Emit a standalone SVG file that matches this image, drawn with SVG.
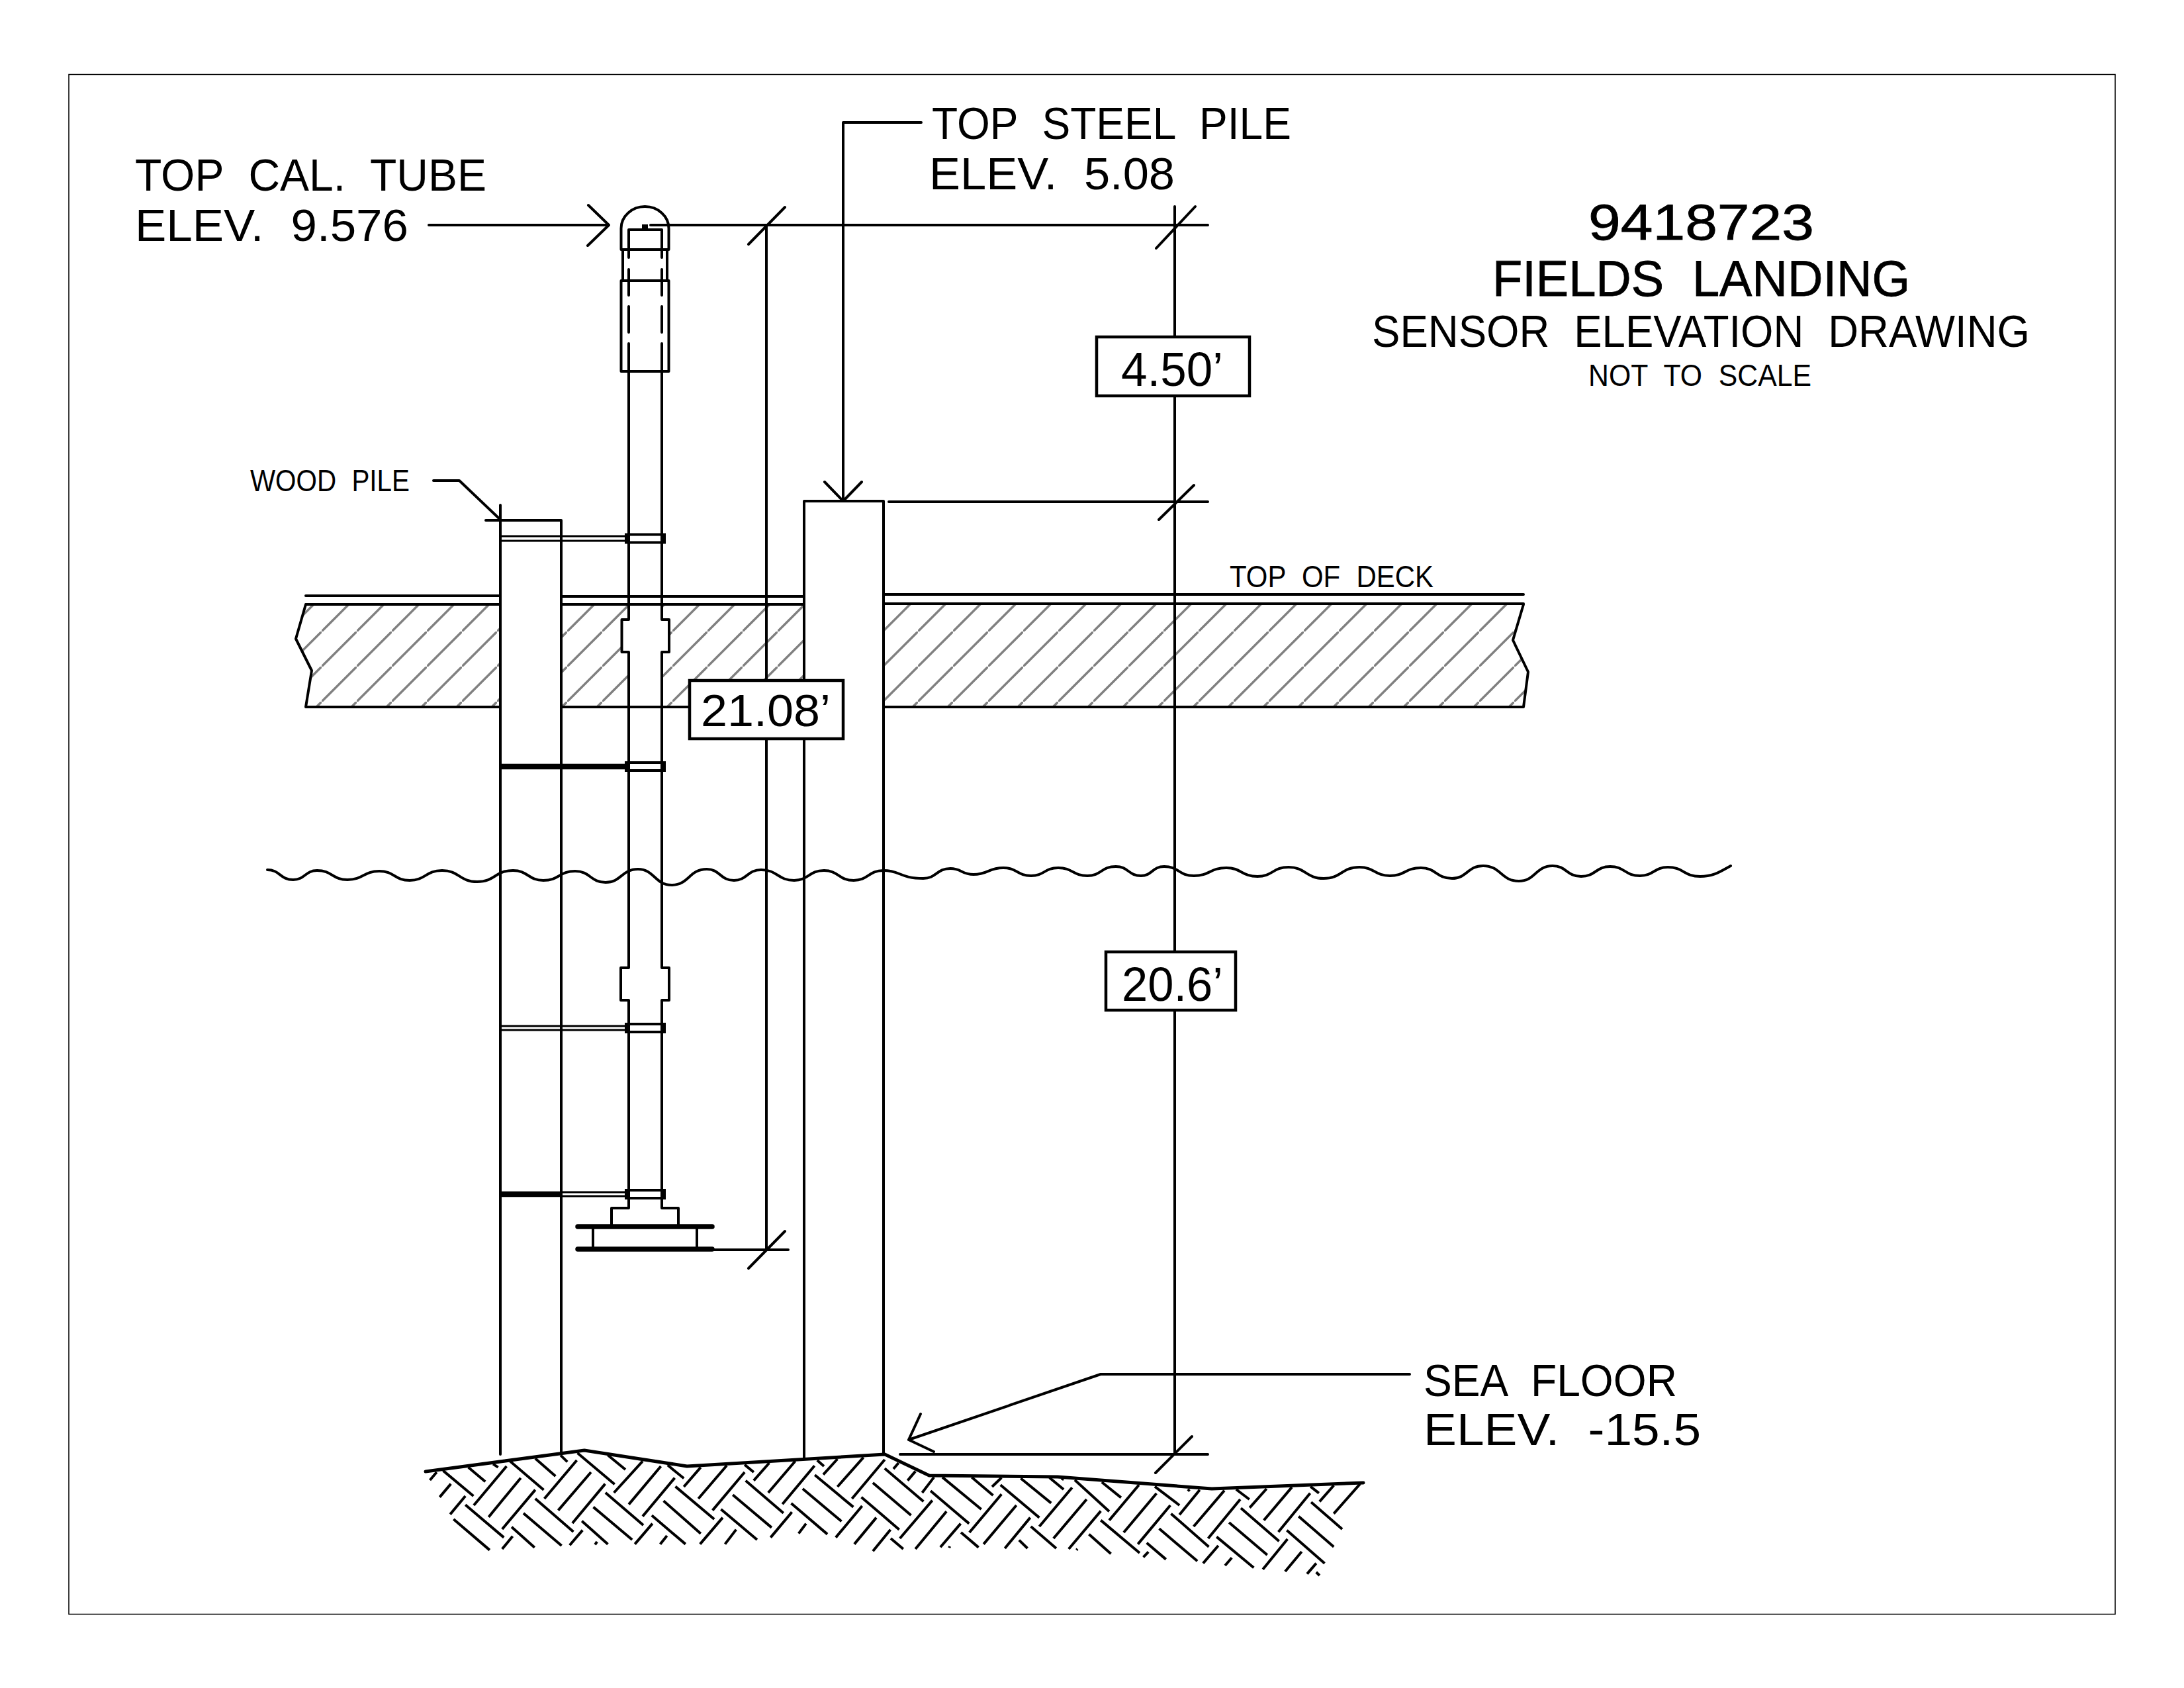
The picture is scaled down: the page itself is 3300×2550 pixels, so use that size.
<svg xmlns="http://www.w3.org/2000/svg" width="3300" height="2550" viewBox="0 0 3300 2550">
<style>
.l{fill:none;stroke:#000;stroke-width:4;stroke-linecap:round;stroke-linejoin:round}
.t{fill:none;stroke:#000;stroke-width:4;vector-effect:non-scaling-stroke;stroke-linecap:butt}
.b{fill:#fff;stroke:#000;stroke-width:4.5}
.x{font-family:"Liberation Sans",Arial,sans-serif;fill:#000;word-spacing:.3em}
.h{stroke:#000;stroke-width:.8}
</style>
<defs>
<pattern id="deckHatch" patternUnits="userSpaceOnUse" x="9" y="0" width="53" height="53">
<path d="M-3 56L56 -3" stroke="#808080" stroke-width="3.4" fill="none"/>
</pattern>
<g id="collar">
<rect x="946" y="-6" width="58" height="12" fill="#fff" stroke="#000" stroke-width="4"/>
<rect x="946" y="-6" width="6" height="12" fill="#000"/>
<rect x="998" y="-6" width="6" height="12" fill="#000"/>
</g>
</defs>
<rect width="3300" height="2550" fill="#fff"/>
<rect id="border" x="104" y="112.500" width="3092" height="2326" fill="none" stroke="#000" stroke-width="1.500"/>

<g id="deck">
<path d="M462 913L447 965L471 1013L462 1068H2302L2309 1015L2286 967L2302 913Z" fill="url(#deckHatch)"/>
<rect x="756" y="905" width="92" height="170" fill="#fff"/>
<rect x="950" y="905" width="50" height="170" fill="#fff"/>
<path d="M939.500 936H1011V985H939.500Z" fill="#fff"/>
<rect x="1215" y="905" width="120" height="170" fill="#fff"/>
<path class="l" d="M462 900H756M848 901H1215M1335 898H2302M462 913H756M848 913H1215M1335 912H2302M756 1068H462L471 1013L447 965L462 913M848 1068H1041M1335 1068H2302L2309 1015L2286 967L2302 913"/>
</g>

<g id="wood-pile">
<path class="l" d="M734 786H848V2195M756 763V2197"/>
</g>

<g id="steel-pile">
<path class="l" d="M1215 2202V757H1335V2197"/>
</g>

<g id="tube">
<path class="l" d="M938.500 377V345A36 33 0 0 1 1010.500 345V377ZM941 377V424M1008 377V424M938.500 424H1010.500V561H938.500Z"/>
<path class="l" d="M950 347H1000M950 347V389M1000 347V389M950 407V446M1000 407V446M950 463V502M1000 463V502M950 519V936H939.500V985H950V1462H938V1511H950V1825H924V1853M1000 519V936H1011V985H1000V1462H1011V1511H1000V1825H1025V1853"/>
<rect x="970" y="339" width="9" height="8" fill="#000"/>
<path class="l" d="M896 1853V1887M1053 1853V1887"/>
<path d="M873 1853H1076M873 1887H1076" fill="none" stroke="#000" stroke-width="7.500" stroke-linecap="round"/>
</g>

<g id="brackets">
<path class="l" style="stroke-width:3" d="M756 810H946M756 817H946M756 1550H946M756 1556H946M848 1801H946M848 1807H946"/>
<path d="M756 1158H946M756 1804H848" stroke="#000" stroke-width="8.500" fill="none"/>
<use href="#collar" transform="translate(0 813.500)"/>
<use href="#collar" transform="translate(0 1158)"/>
<use href="#collar" transform="translate(0 1553)"/>
<use href="#collar" transform="translate(0 1804)"/>
</g>

<g id="water">
<path class="l" d="M404 1314C423 1314 423 1329 443 1329C461 1329 461 1315 479 1315C502 1315 502 1329 525 1329C549 1329 549 1316 573 1316C596 1316 596 1330 619 1330C643 1330 643 1315 668 1315C694 1315 694 1332 721 1332C748 1332 748 1315 775 1315C798 1315 798 1330 821 1330C845 1330 845 1316 869 1316C892 1316 892 1333 915 1333C939 1333 939 1313 964 1313C989 1313 989 1337 1015 1337C1041 1337 1041 1313 1068 1313C1088 1313 1088 1330 1109 1330C1129 1330 1129 1314 1150 1314C1175 1314 1175 1330 1200 1330C1222 1330 1222 1315 1245 1315C1267 1315 1267 1330 1290 1330C1312 1330 1312 1315 1335 1315C1360 1315 1360 1327 1395 1327C1415 1327 1415 1312 1436 1312C1453 1312 1453 1321 1471 1321C1493 1321 1493 1311 1516 1311C1537 1311 1537 1323 1558 1323C1578 1323 1578 1311 1599 1311C1621 1311 1621 1323 1643 1323C1664 1323 1664 1309 1686 1309C1705 1309 1705 1323 1724 1323C1741 1323 1741 1309 1759 1309C1781 1309 1781 1323 1804 1323C1828 1323 1828 1311 1853 1311C1876 1311 1876 1324 1900 1324C1923 1324 1923 1310 1947 1310C1973 1310 1973 1327 2000 1327C2027 1327 2027 1310 2054 1310C2077 1310 2077 1323 2100 1323C2123 1323 2123 1311 2147 1311C2170 1311 2170 1327 2194 1327C2217 1327 2217 1308 2241 1308C2268 1308 2268 1331 2295 1331C2320 1331 2320 1308 2346 1308C2367 1308 2367 1324 2389 1324C2411 1324 2411 1309 2433 1309C2455 1309 2455 1323 2478 1323C2499 1323 2499 1310 2520 1310C2544 1310 2544 1324 2569 1324C2590 1324 2600 1316 2615 1308"/>
</g>

<g id="ground">
<path class="l" style="stroke-width:5" d="M643 2223L883 2191L1038 2215L1337 2197L1404 2229L1598 2231L1831 2249L2060 2240"/>
<g transform="translate(620 2100) scale(.5102 .3333)">
<path class="t" d="M97 365L187 480M172 350L222 415M245 335L260 350M295 322L395 452M370 310L430 390M445 295L465 325M495 285L605 427M585 295L637 360M762 340L810 400M990 338L1017 372M1205 318L1225 345M785 437L900 585M993 410L1105 557M955 475L1070 623M1198 385L1312 530M1162 447L1277 595M1128 513L1235 653M750 502L860 650M920 540L1027 678M715 568L815 698M578 465L690 612M542 530L657 678M508 593L585 698M370 492L483 642M335 558L448 705M300 620L368 713M163 520L277 668M128 585L235 725M78 372L58 408M120 425L87 485M163 480L118 563M285 345L188 522M327 398L232 575M370 452L272 630M303 662L272 720M493 318L397 492M535 372L438 545M577 425L480 603M510 635L472 703M553 687L547 700M688 322L603 465M742 345L647 518M783 398L688 572M717 605L665 698M760 660L740 698M860 350L810 438M937 342L853 492M990 372L895 545M925 578L858 698M965 632L932 698M1063 330L1017 410M1140 322L1060 465M1197 343L1102 517M1130 553L1067 668M1172 605L1150 650M1265 312L1223 383M1342 305L1265 438M1405 315L1308 492M1338 525L1260 668M1380 578L1315 698M1422 632L1370 730"/>
</g>
<g transform="translate(1300 2100) scale(.5102 .3333)">
<path class="t" d="M72 355L187 505M37 420L150 567M3 485L115 632M90 672L127 720M243 395L358 540M208 457L322 605M298 645L350 713M330 395L393 477M415 430L530 578M475 400L565 512M505 618L580 717M470 680L495 717M560 397L602 450M635 407L737 550M715 417L772 487M712 590L827 738M677 653L742 742M848 692L905 767M872 437L945 522M920 560L1032 710M885 628L998 775M1055 665L1165 805M1092 600L1205 747M1127 535L1240 685M1113 450L1152 495M1263 635L1375 785M1298 572L1402 710M1335 508L1427 630M1333 437L1358 467M1350 825L1360 840M113 330L98 357M163 368L140 410M218 395L183 465M213 500L117 672M255 550L163 720M297 605L237 712M418 397L390 438M418 472L323 645M462 522L365 698M503 578L428 717M627 442L530 618M670 495L572 672M712 548L617 720M825 430L737 590M877 468L780 645M918 522L822 698M853 733L838 757M1005 452L945 565M1078 455L987 618M1125 495L1030 672M1060 705L1015 785M1100 760L1080 795M1203 447L1153 533M1278 440L1195 590M1332 467L1238 643M1265 675L1192 812M1307 732L1258 822M1350 785L1323 833M1402 432L1360 505M1480 425L1402 560M975 450L970 458M600 400L597 408M265 708L263 715M643 720L640 725"/>
</g>
</g>

<g id="connectors">
<path class="l" d="M648 340H920M889 310L920 340L888 371"/>
<path class="l" d="M983 340H1825M1158 340V1888M1131 369L1186 313M1077 1888H1191M1131 1916L1186 1860"/>
<path class="l" d="M1775 312V2197M1747 375L1806 312M1343 758H1825M1751 785L1804 733M1360 2197H1825M1746 2225L1801 2170"/>
<path class="l" d="M1392 185H1274V757M1246 728L1274 757L1302 728"/>
<path class="l" d="M655 726H694L756 785"/>
<path class="l" d="M2130 2076H1663L1373 2175M1391 2136L1373 2175L1411 2193"/>
</g>

<g id="dim-450">
<rect class="b" x="1657" y="509" width="231" height="89"/>
<text class="x" x="1694" y="583" font-size="72" textLength="154" lengthAdjust="spacingAndGlyphs">4.50’</text>
</g>
<g id="dim-206">
<rect class="b" x="1671" y="1438" width="196" height="88"/>
<text class="x" x="1695" y="1512" font-size="72" textLength="153" lengthAdjust="spacingAndGlyphs">20.6’</text>
</g>
<g id="dim-2108">
<rect class="b" x="1042" y="1028" width="232" height="88"/>
<text class="x" x="1059" y="1097" font-size="68" textLength="196" lengthAdjust="spacingAndGlyphs">21.08’</text>
</g>

<g id="labels">
<text class="x" x="204" y="288" font-size="68" textLength="531" lengthAdjust="spacingAndGlyphs">TOP CAL. TUBE</text>
<text class="x" x="204" y="364" font-size="68" textLength="413" lengthAdjust="spacingAndGlyphs">ELEV. 9.576</text>
<text class="x" x="1408" y="210" font-size="68" textLength="543" lengthAdjust="spacingAndGlyphs">TOP STEEL PILE</text>
<text class="x" x="1404" y="286" font-size="68" textLength="371" lengthAdjust="spacingAndGlyphs">ELEV. 5.08</text>
<text class="x" x="378" y="742" font-size="46" textLength="241" lengthAdjust="spacingAndGlyphs">WOOD PILE</text>
<text class="x" x="1858" y="887" font-size="46" textLength="308" lengthAdjust="spacingAndGlyphs">TOP OF DECK</text>
<text class="x h" x="2400" y="362" font-size="76" textLength="341" lengthAdjust="spacingAndGlyphs">9418723</text>
<text class="x h" x="2255" y="447" font-size="76" textLength="631" lengthAdjust="spacingAndGlyphs">FIELDS LANDING</text>
<text class="x" x="2073" y="524" font-size="68" textLength="994" lengthAdjust="spacingAndGlyphs">SENSOR ELEVATION DRAWING</text>
<text class="x" x="2400" y="583" font-size="46" textLength="337" lengthAdjust="spacingAndGlyphs">NOT TO SCALE</text>
<text class="x" x="2151" y="2109" font-size="68" textLength="383" lengthAdjust="spacingAndGlyphs">SEA FLOOR</text>
<text class="x" x="2151" y="2183" font-size="68" textLength="419" lengthAdjust="spacingAndGlyphs">ELEV. -15.5</text>
</g>
</svg>
